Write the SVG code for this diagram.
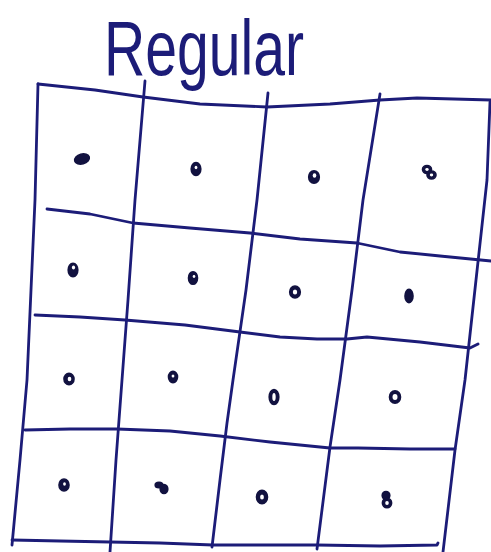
<svg xmlns="http://www.w3.org/2000/svg" width="491" height="552" viewBox="0 0 491 552">
<style>
.ln{fill:none;stroke:#1c1c78;stroke-width:2.8;stroke-linecap:round;stroke-linejoin:round}
.dot{fill:#121240;stroke:#121240;stroke-width:1.6}
.hole{fill:#ffffff}
.title{font-family:"Liberation Sans","DejaVu Sans",sans-serif;font-size:78px;fill:#1c1c78;font-weight:normal}
</style>
<rect width="491" height="552" fill="#ffffff"/>
<g id="title">
<text class="title" x="104" y="75" textLength="200" lengthAdjust="spacingAndGlyphs">Regular</text>
</g>
<g id="grid">
<path class="ln" d="M38,84 L95,90 L143,97 L200,104 L267,107 L330,104 L380,100 L417,98 L491,100"/>
<path class="ln" d="M47,209 L90,214 L133,223 L190,228 L250,233 L300,239 L357,243 L400,252 L440,256 L491,261"/>
<path class="ln" d="M35,315 L80,317 L125,320 L185,325 L240,332 L280,337 L317,339 L347,339 L367,337 L420,342 L470,348 L478,344"/>
<path class="ln" d="M25,430 L70,429 L117,429 L170,431 L220,436 L270,442 L330,448 L358,448 L410,449 L455,449"/>
<path class="ln" d="M12,540 L60,541 L110,542 L160,543 L213,545 L317,545 L380,546 L437,545 L438,543"/>
<path class="ln" d="M38,84 L35,200 L31,290 L27,380 L20,460 L12,545"/>
<path class="ln" d="M145,81 L135,200 L128,300 L122,380 L116,460 L110,552"/>
<path class="ln" d="M268,93 L257,200 L246,290 L233,380 L227,423 L220,480 L212,547"/>
<path class="ln" d="M380,94 L363,200 L352,290 L340,380 L330,447 L317,549"/>
<path class="ln" d="M490,102 L487,180 L476,280 L465,380 L455,450 L443,552"/>
</g>
<g id="dots">
<ellipse class="dot" cx="82" cy="159" rx="7.5" ry="5" transform="rotate(-15 82 159)"/>
<ellipse class="dot" cx="196" cy="169" rx="4.8" ry="6.5"/>
<ellipse class="hole" cx="196" cy="167.5" rx="1.4" ry="1.8"/>
<ellipse class="dot" cx="314" cy="177" rx="5.3" ry="6.3"/>
<ellipse class="hole" cx="314.5" cy="175.5" rx="1.8" ry="2.2"/>
<ellipse class="dot" cx="427" cy="169.5" rx="4.5" ry="4"/>
<ellipse class="dot" cx="431.5" cy="175" rx="4.5" ry="4"/>
<ellipse class="hole" cx="427" cy="169.5" rx="1.7" ry="1.4"/>
<ellipse class="hole" cx="431.5" cy="175" rx="1.7" ry="1.4"/>
<ellipse class="dot" cx="73" cy="270" rx="4.8" ry="6.8"/>
<ellipse class="hole" cx="73.5" cy="267.5" rx="1.6" ry="1.9"/>
<ellipse class="dot" cx="193" cy="278" rx="4.5" ry="6.3"/>
<ellipse class="hole" cx="194" cy="276.5" rx="1.3" ry="1.4"/>
<ellipse class="dot" cx="295" cy="292" rx="5.3" ry="6"/>
<ellipse class="hole" cx="295" cy="292" rx="2.2" ry="2.6"/>
<ellipse class="dot" cx="409" cy="296" rx="4" ry="6.6"/>
<ellipse class="dot" cx="69" cy="379" rx="5" ry="5.8"/>
<ellipse class="hole" cx="69.5" cy="379" rx="1.8" ry="2.2"/>
<ellipse class="dot" cx="173" cy="377" rx="4.5" ry="5.6"/>
<ellipse class="hole" cx="173" cy="376" rx="1.4" ry="1.6"/>
<ellipse class="dot" cx="274" cy="397" rx="4.8" ry="7.5"/>
<ellipse class="hole" cx="274" cy="397" rx="1.7" ry="4"/>
<ellipse class="dot" cx="395" cy="397" rx="5.5" ry="6.2"/>
<ellipse class="hole" cx="395" cy="397" rx="2.5" ry="3"/>
<ellipse class="dot" cx="64" cy="485" rx="5" ry="6"/>
<ellipse class="hole" cx="64.5" cy="484" rx="1.4" ry="1.7"/>
<ellipse class="dot" cx="159" cy="485" rx="3.8" ry="2.8"/>
<ellipse class="dot" cx="164" cy="489" rx="3.8" ry="4.4"/>
<ellipse class="dot" cx="262" cy="497" rx="5.5" ry="6.6"/>
<ellipse class="hole" cx="262" cy="497" rx="1.9" ry="2.5"/>
<ellipse class="dot" cx="386" cy="495.5" rx="3.8" ry="4"/>
<ellipse class="dot" cx="387" cy="503" rx="4.6" ry="4.8"/>
<ellipse class="hole" cx="387" cy="503" rx="1.8" ry="1.9"/>
</g>
</svg>
